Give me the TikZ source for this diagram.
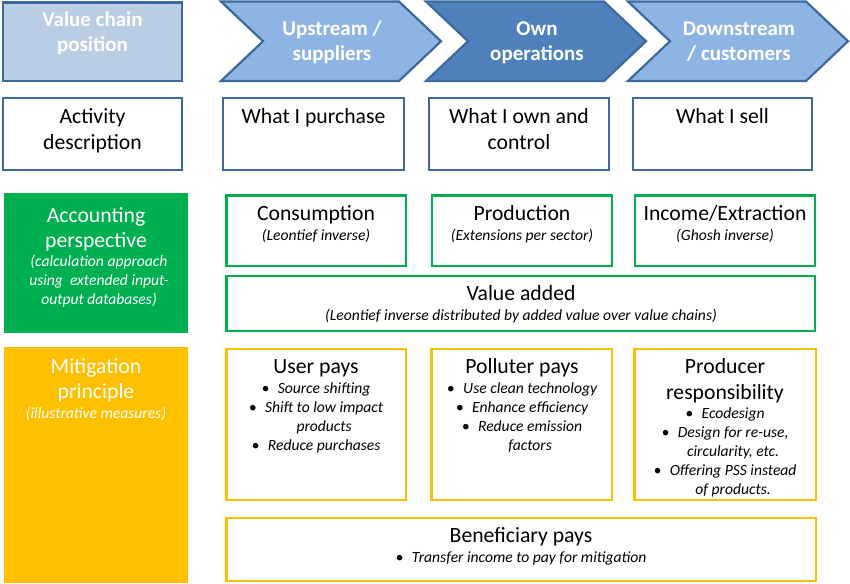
\documentclass[tikz,border=0pt]{standalone}
\usepackage{fontspec}
\setmainfont{Carlito}
\usetikzlibrary{fit}
\definecolor{cblue}{HTML}{3D6A9E}
\definecolor{cpale}{HTML}{B9CDE5}
\definecolor{clight}{HTML}{8EB4E3}
\definecolor{cdark}{HTML}{4F81BD}
\definecolor{cgreen}{HTML}{00B050}
\definecolor{cyellow}{HTML}{FFC000}
\newcommand\mybul{•\hspace{8.5pt}}
\newcommand\mynobul{\phantom{•\hspace{8.5pt}}}
\begin{document}
\begin{tikzpicture}[x=1pt,y=-1pt,
  bluebox/.style={draw=cblue, line width=2.5pt, fill=white, inner sep=0pt},
  greenbox/.style={draw=cgreen, line width=2.8pt, fill=white, inner sep=0pt},
  yellowbox/.style={draw=cyellow, line width=2.8pt, fill=white, inner sep=0pt},
  chev/.style={draw=cblue, line width=2.2pt, line join=miter},
  big/.style={font=\fontsize{21.7}{25}\selectfont, align=center, inner sep=0pt, anchor=base},
  bigb/.style={font=\fontsize{21}{25}\selectfont\bfseries, align=center, inner sep=0pt, anchor=base, text=white},
  small/.style={font=\fontsize{15.6}{19}\selectfont\itshape, align=center, inner sep=0pt, anchor=base}]
\useasboundingbox (0,0) rectangle (850,583);

% Row 1: value chain position (multi-line nodes are placed by their last baseline)
\node[bluebox, fill=cpale, fit={(3,2.5) (182,81)}] (vcp) {};
\node[bigb] (vcpT) at (92.5,52) {Value chain\\position};

\filldraw[chev, fill=clight] (221,1.5) -- (399,1.5) -- (441,41.25) -- (399,81) -- (221,81) -- (263,41.25) -- cycle;
\node[bigb] (upT) at (332,61) {Upstream /\\suppliers};
\filldraw[chev, fill=cdark] (426,1.5) -- (604,1.5) -- (646,41.25) -- (604,81) -- (426,81) -- (468,41.25) -- cycle;
\node[bigb] (ownT) at (537,61) {Own\\operations};
\filldraw[chev, fill=clight] (628,1.5) -- (806,1.5) -- (848,41.25) -- (806,81) -- (628,81) -- (670,41.25) -- cycle;
\node[bigb] (downT) at (739,61) {Downstream\\/ customers};

% Row 2: activity description
\node[bluebox, fit={(3,98) (182,170)}] (act) {};
\node[big] (actT) at (92.5,149) {Activity\\description};
\node[bluebox, fit={(223,98) (404,170)}] (pur) {};
\node[big] (purT) at (313.5,124) {What I purchase};
\node[bluebox, fit={(429,98) (609,170)}] (own) {};
\node[big] (ownT2) at (519,149) {What I own and\\control};
\node[bluebox, fit={(633,98) (812,170)}] (sell) {};
\node[big] (sellT) at (722.5,124) {What I sell};

% Row 3: accounting perspective
\node[fill=cgreen, inner sep=0pt, fit={(4,193) (188,333)}] (acc) {};
\node[big, text=white] (accT) at (96,247) {Accounting\\perspective};
\node[small, text=white] (accS) at (99,304) {(calculation approach\\using\ \ extended input-\\output databases)};

\node[greenbox, fit={(226.5,195.5) (406,266)}] (cons) {};
\node[big] (consT) at (316,220) {Consumption};
\node[small] (consS) at (316,240) {(Leontief inverse)};
\node[greenbox, fit={(432,195.5) (612,266)}] (prod) {};
\node[big] (prodT) at (522,220) {Production};
\node[small] (prodS) at (522,240) {(Extensions per sector)};
\node[greenbox, fit={(635,195.5) (815,266)}] (inc) {};
\node[big] (incT) at (725,220) {Income/Extraction};
\node[small] (incS) at (725,240) {(Ghosh inverse)};
\node[greenbox, fit={(226.5,276) (815,331)}] (va) {};
\node[big] (vaT) at (521,300) {Value added};
\node[small] (vaS) at (521,320) {(Leontief inverse distributed by added value over value chains)};

% Row 4: mitigation principle
\node[fill=cyellow, inner sep=0pt, fit={(4,347) (188,583)}] (mit) {};
\node[big, text=white] (mitT) at (96,398) {Mitigation\\principle};
\node[small, text=white] (mitS) at (96,418) {(illustrative measures)};

\node[yellowbox, fit={(226.5,349) (406,500)}] (user) {};
\node[big] (userT) at (316,373) {User pays};
\node[small] (userS) at (316,450) {\mybul Source shifting\\\mybul Shift to low impact\\\mynobul products\\\mybul Reduce purchases};
\node[yellowbox, fit={(431.5,349) (612,500)}] (poll) {};
\node[big] (pollT) at (522,373) {Polluter pays};
\node[small] (pollS) at (522,450) {\mybul Use clean technology\\\mybul Enhance efficiency\\\mybul Reduce emission\\\mynobul factors};
\node[yellowbox, fit={(634.5,349) (816,500)}] (prodr) {};
\node[big, font=\fontsize{21.7}{26}\selectfont] (prodrT) at (725,399) {Producer\\responsibility};
\node[small] (prodrS) at (725,494) {\mybul Ecodesign\\\mybul Design for re-use,\\\mynobul circularity, etc.\\\mybul Offering PSS instead\\\mynobul of products.};
\node[yellowbox, fit={(226.5,518) (816,581)}] (ben) {};
\node[big] (benT) at (521,542) {Beneficiary pays};
\node[small] (benS) at (521,562) {\mybul Transfer income to pay for mitigation};
\end{tikzpicture}
\end{document}
